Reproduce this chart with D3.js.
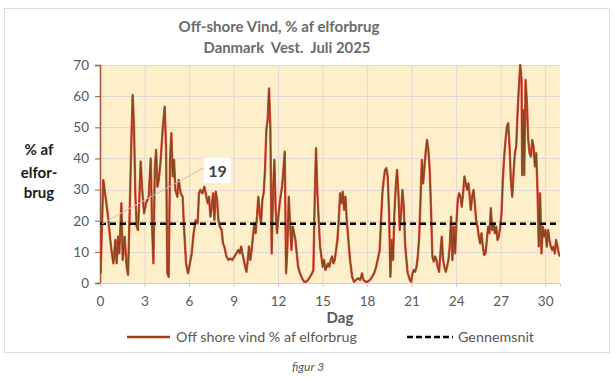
<!DOCTYPE html>
<html><head><meta charset="utf-8">
<script src="https://cdn.jsdelivr.net/npm/d3@7/dist/d3.min.js"></script>
<style>body{margin:0;background:#fff}svg{display:block}text{font-family:Lato,"Open Sans",sans-serif}</style>
</head><body><svg id="c" width="615" height="380"></svg>
<script>
const titleLines = ["Off-shore Vind, % af elforbrug", "Danmark  Vest.  Juli 2025"];
const xTicks = [0,3,6,9,12,15,18,21,24,27,30];
const yTicks = [0,10,20,30,40,50,60,70];
const average = 19;
const seriesName = "Off shore vind % af elforbrug";
const avgName = "Gennemsnit";
const days = [0.04,0.22,0.40,0.54,0.74,0.90,1.03,1.12,1.21,1.30,1.44,1.53,1.66,1.80,1.89,2.02,2.11,2.20,2.29,2.38,2.47,2.56,2.65,2.74,2.83,2.97,3.10,3.28,3.42,3.51,3.60,3.69,3.78,3.87,3.96,4.09,4.22,4.36,4.45,4.54,4.63,4.72,4.81,4.90,4.99,5.08,5.21,5.30,5.44,5.57,5.66,5.80,5.93,
6.00,6.18,6.31,6.45,6.58,6.67,6.76,6.90,7.03,7.12,7.26,7.35,7.44,7.53,7.62,7.71,7.80,7.89,7.98,8.07,8.20,8.29,8.38,8.52,8.65,8.79,8.92,9.06,9.19,9.33,9.42,9.51,9.60,9.69,9.78,9.87,9.96,10.04,10.13,10.22,10.31,10.40,10.49,10.58,10.67,10.76,10.85,10.94,11.03,11.12,11.21,11.30,11.39,11.48,11.57,11.66,11.75,11.84,11.93,
12.02,12.11,12.20,12.27,12.36,12.45,12.54,12.63,12.72,12.81,12.90,12.99,13.08,13.17,13.26,13.35,13.48,13.62,13.75,13.89,14.02,14.16,14.29,14.38,14.47,14.56,14.65,14.74,14.83,14.92,15.01,15.10,15.19,15.28,15.37,15.46,15.55,15.64,15.73,15.82,15.91,16.00,16.09,16.18,16.27,16.36,16.45,16.54,16.63,16.72,16.85,16.99,17.12,17.26,17.39,17.53,17.66,17.75,17.89,18.02,18.20,18.34,18.47,
18.61,18.76,18.85,18.94,19.03,19.12,19.21,19.30,19.39,19.48,19.57,19.66,19.75,19.84,19.93,20.02,20.11,20.20,20.29,20.38,20.47,20.56,20.65,20.74,20.88,20.97,21.06,21.15,21.24,21.33,21.42,21.51,21.60,21.69,21.78,21.87,21.96,22.04,22.13,22.22,22.31,22.40,22.49,22.58,22.67,22.76,22.85,22.94,23.03,23.12,23.21,23.30,23.39,23.48,23.57,23.66,23.75,23.84,23.93,24.02,24.11,24.20,24.29,24.38,24.47,24.56,24.65,24.74,24.83,24.92,
24.99,25.08,25.17,25.26,25.35,25.44,25.53,25.62,25.71,25.80,25.89,25.98,26.07,26.16,26.25,26.34,26.43,26.52,26.61,26.70,26.79,26.88,26.97,27.06,27.15,27.24,27.33,27.42,27.51,27.60,27.69,27.78,27.87,27.96,28.05,28.14,28.23,28.32,28.41,28.45,28.54,28.59,28.68,28.77,28.86,28.95,29.04,29.13,29.22,29.31,29.40,29.49,29.57,29.66,29.75,29.84,29.93,30.02,30.11,30.20,30.29,30.38,30.47,30.56,30.65,30.74,30.83,30.92,31.00];
const windPct = [3.1,33.1,26.7,21.3,11.7,6.3,13.8,6.3,14.9,9.5,25.6,7.4,14.9,5.2,2.6,26.7,44.9,60.4,50.2,28.8,18.1,17.0,26.7,39.0,30.9,22.4,25.6,27.7,40.0,18.1,6.3,36.3,42.7,30.9,33.1,39.5,49.1,56.6,43.8,3.1,2.0,39.5,48.1,34.2,39.5,29.9,27.7,33.1,28.8,27.7,18.1,6.3,3.1,
4.7,9.5,16.0,20.2,19.1,28.8,29.9,28.8,30.9,28.8,25.6,27.7,21.3,24.5,28.8,20.2,29.3,26.7,20.2,18.1,17.0,12.7,11.7,8.5,7.4,7.9,7.4,8.5,9.5,10.6,9.5,11.7,9.5,7.4,5.2,3.6,7.4,11.7,7.4,10.6,14.9,19.1,16.0,21.3,27.7,22.4,19.1,26.7,28.8,36.3,49.1,52.4,62.5,50.2,9.5,28.8,39.5,23.5,16.0,
21.3,25.6,28.8,30.9,36.3,42.2,3.1,11.7,27.7,19.1,10.6,18.1,16.0,13.8,9.5,5.2,3.1,1.5,0.4,0.4,1.0,2.0,3.1,4.2,26.7,43.3,28.8,20.2,11.7,8.5,5.2,7.4,4.2,5.2,6.3,5.2,7.4,8.5,6.3,7.4,10.6,13.8,20.2,28.8,25.6,29.3,23.5,27.7,20.2,14.9,7.4,2.0,0.4,1.0,1.5,1.0,3.1,1.0,0.4,0.4,1.0,2.0,3.1,
5.2,8.5,10.6,20.2,28.8,33.1,36.3,36.9,34.2,22.4,2.0,13.8,7.4,22.4,30.9,36.3,28.8,17.0,22.4,29.9,24.5,12.7,7.4,3.1,1.0,0.4,3.1,4.2,3.6,5.2,8.5,14.9,26.7,39.5,32.0,37.4,42.7,45.9,42.7,36.3,23.5,8.5,6.9,8.5,7.4,5.2,3.6,9.5,14.9,7.4,5.2,3.6,5.2,7.4,11.7,21.3,7.4,18.1,9.5,19.1,26.7,28.8,27.7,24.5,28.8,34.2,32.0,29.9,32.0,27.7,
23.5,27.7,29.9,25.6,20.2,18.1,14.9,12.7,16.0,11.7,9.0,9.5,13.8,18.1,16.0,24.0,17.0,19.1,16.0,18.1,13.8,14.9,18.1,22.4,33.1,40.6,45.9,50.2,51.3,43.8,33.1,27.7,35.3,41.7,43.8,54.5,63.0,70.0,65.2,34.7,55.6,34.7,65.2,57.8,45.9,41.7,40.6,45.9,43.8,37.4,41.7,28.8,11.7,28.8,9.5,18.1,14.9,17.0,11.7,17.0,13.8,11.7,10.6,11.7,9.5,13.8,11.7,9.5,8.5];

const svg = d3.select("#c");
const W = 615, H = 380;
const pLeft = 100, pRight = 560, pTop = 65, pBottom = 283;

function fit(sel, w) {
  const n = sel.node(); const cur = n.getComputedTextLength();
  const fs = parseFloat(sel.attr("font-size"));
  sel.attr("font-size", (fs * w / cur).toFixed(2));
}

svg.append("rect").attr("width", W).attr("height", H).attr("fill", "#fff");
svg.append("rect").attr("x", 4.5).attr("y", 8.5).attr("width", 605).attr("height", 344)
  .attr("fill", "#fff").attr("stroke", "#dcdcdc");

// titles
const t1 = svg.append("text").attr("x", 279).attr("y", 32).attr("text-anchor", "middle")
  .attr("font-weight", "bold").attr("font-size", 17).attr("fill", "#6b6b6b").text(titleLines[0]);
fit(t1, 201);
const t2 = svg.append("text").attr("x", 287).attr("y", 53).attr("text-anchor", "middle")
  .attr("font-weight", "bold").attr("font-size", 17).attr("fill", "#6b6b6b")
  .style("white-space", "pre").text(titleLines[1]);
fit(t2, 167);

const x = d3.scaleLinear().domain([0, 31]).range([pLeft, pRight]);
const y = d3.scaleLinear().domain([0, 70]).range([pBottom, pTop]);

svg.append("rect").attr("x", pLeft).attr("y", pTop).attr("width", pRight - pLeft).attr("height", pBottom - pTop)
  .attr("fill", "#fdefca");

// grid
svg.append("g").selectAll("line").data(xTicks.filter(d => d > 0)).join("line")
  .attr("x1", d => x(d) + 0.5).attr("x2", d => x(d) + 0.5).attr("y1", pTop).attr("y2", pBottom)
  .attr("stroke", "#e3d6d8").attr("stroke-width", 1);
svg.append("g").selectAll("line").data(yTicks.filter(d => d > 0)).join("line")
  .attr("y1", d => Math.round(y(d)) + 0.5).attr("y2", d => Math.round(y(d)) + 0.5).attr("x1", pLeft).attr("x2", pRight)
  .attr("stroke", "#e3d6d8").attr("stroke-width", 1);

// y axis
const yAxis = svg.append("g").attr("transform", `translate(${pLeft},0)`)
  .call(d3.axisLeft(y).tickValues(yTicks).tickSize(5).tickPadding(6));
yAxis.select(".domain").attr("stroke", "#a0563c").attr("stroke-width", 1.5);
yAxis.selectAll(".tick line").attr("stroke", "#a0563c");
yAxis.selectAll(".tick text").attr("font-size", 13.5).attr("fill", "#595959").attr("font-family", "Lato");

// x axis
const xAxis = svg.append("g").attr("transform", `translate(0,${pBottom})`)
  .call(d3.axisBottom(x).tickValues(xTicks).tickSize(4).tickPadding(9));
xAxis.select(".domain").attr("stroke", "#e3c9c9");
xAxis.selectAll(".tick line").attr("stroke", "#d9c3c3");
xAxis.selectAll(".tick text").attr("font-size", 13.5).attr("fill", "#595959").attr("font-family", "Lato");

// axis titles
const yt = svg.append("text").attr("text-anchor", "middle").attr("font-weight", "bold")
  .attr("font-size", 15).attr("fill", "#1a1a1a");
[["% af", 155], ["elfor-", 178], ["brug", 198]].forEach(([s, yy]) =>
  yt.append("tspan").attr("x", 39).attr("y", yy).text(s));
svg.append("text").attr("x", 340).attr("y", 323).attr("text-anchor", "middle").attr("font-weight", "bold")
  .attr("font-size", 15).attr("fill", "#595959").text("Dag");

// clip
svg.append("clipPath").attr("id", "pc").append("rect").attr("x", pLeft).attr("y", pTop - 1)
  .attr("width", pRight - pLeft).attr("height", pBottom - pTop + 2);

const pts = days.map((d, i) => [d, windPct[i]]);
const line = d3.line().x(d => x(d[0])).y(d => y(d[1]));
const g = svg.append("g").attr("clip-path", "url(#pc)");
g.append("path").attr("d", line(pts)).attr("fill", "none").attr("stroke", "#e8322a")
  .attr("stroke-width", 2.4).attr("stroke-linejoin", "round").attr("opacity", 0.85);
g.append("path").attr("d", line(pts)).attr("fill", "none").attr("stroke", "#7e4a1c")
  .attr("stroke-width", 1.3).attr("stroke-linejoin", "round");

// average
svg.append("line").attr("x1", x(0)).attr("x2", pRight).attr("y1", y(average)).attr("y2", y(average))
  .attr("stroke", "#000").attr("stroke-width", 2.5).attr("stroke-dasharray", "6,4");

// callout
svg.append("path").attr("d", `M${x(0) + 2},${y(average)} Q${x(3.5)},${y(28)} ${x(7)},${y(37)}`)
  .attr("fill", "none").attr("stroke", "#c9bfc0").attr("stroke-width", 1);
svg.append("rect").attr("x", 204).attr("y", 158).attr("width", 27).attr("height", 25).attr("fill", "#fff");
svg.append("text").attr("x", 217.5).attr("y", 177).attr("text-anchor", "middle").attr("font-weight", "bold")
  .attr("font-size", 16).attr("fill", "#404040").text(average);

// legend
svg.append("line").attr("x1", 127).attr("x2", 170).attr("y1", 337).attr("y2", 337)
  .attr("stroke", "#e8322a").attr("stroke-width", 2.4);
svg.append("line").attr("x1", 127).attr("x2", 170).attr("y1", 337).attr("y2", 337)
  .attr("stroke", "#7e4a1c").attr("stroke-width", 1.3);
const l1 = svg.append("text").attr("x", 176).attr("y", 342).attr("font-size", 13.5).attr("fill", "#595959").text(seriesName);
fit(l1, 181);
svg.append("line").attr("x1", 407).attr("x2", 453).attr("y1", 337).attr("y2", 337)
  .attr("stroke", "#000").attr("stroke-width", 2.5).attr("stroke-dasharray", "6,3");
const l2 = svg.append("text").attr("x", 458).attr("y", 342).attr("font-size", 13.5).attr("fill", "#595959").text(avgName);
fit(l2, 76);

svg.append("text").attr("x", 308).attr("y", 371).attr("text-anchor", "middle").attr("font-style", "italic")
  .attr("font-size", 12).attr("fill", "#595959").text("figur 3");
</script></body></html>
